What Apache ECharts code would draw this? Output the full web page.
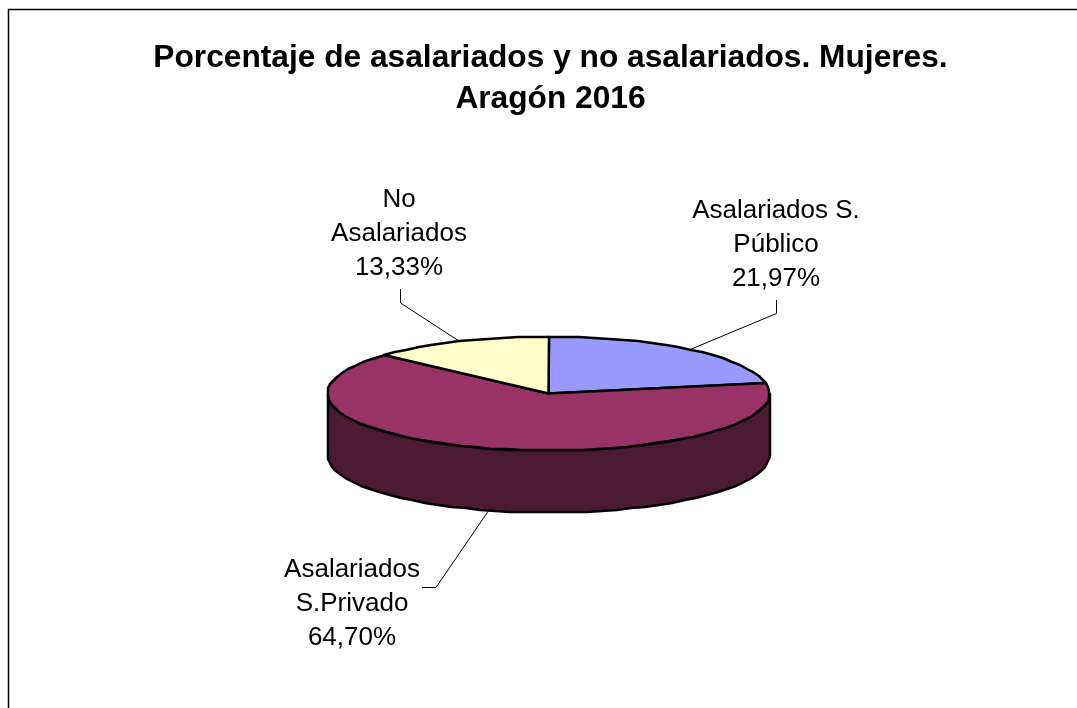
<!DOCTYPE html>
<html>
<head>
<meta charset="utf-8">
<style>html,body{margin:0;padding:0;background:#fff}#chart{width:1077px;height:708px}</style>
<script src="https://cdn.jsdelivr.net/npm/echarts@6/dist/echarts.min.js"></script>
</head>
<body>
<div id="chart"></div>
<script>
const titleText = 'Porcentaje de asalariados y no asalariados. Mujeres.\nAragón 2016'
const categories = ['Asalariados S.\nPúblico', 'Asalariados\nS.Privado', 'No\nAsalariados']
const values = [21.97, 64.70, 13.33]
const topColors = ['#9999ff', '#993366', '#ffffcc']
const sideColors = ['#4d4d80', '#4d1a33', '#808066']

// pie geometry
const cx = 548.5, cy = 393.5, rx = 221, ry = 57, depth = 62
const total = values.reduce((a, b) => a + b, 0)

// where each label sits: text centre, then the bend points of its leader line
const labelLayout = [
  { x: 776, y: 245, bend: [[776.5, 300], [776.5, 313.5]] },
  { x: 352, y: 604, bend: [[422, 587.5], [436, 587.5]] },
  { x: 399, y: 234, bend: [[400.5, 289], [400.5, 303]] }
]

// rounded to whole pixels and few steps, the original outline is faceted too
function pt(deg, dy) {
  const a = deg * Math.PI / 180
  return [Math.round(cx + rx * Math.sin(a)), Math.round(cy - ry * Math.cos(a)) + (dy || 0)]
}
function arc(from, to, dy) {
  const pts = []
  for (let d = from; d < to; d += 4) pts.push(pt(d, dy))
  pts.push(pt(to, dy))
  return pts
}

function renderSlice(params, api) {
  const i = params.dataIndex
  let before = 0
  for (let k = 0; k < i; k++) before += values[k]
  const start = before / total * 360
  const end = (before + api.value(0)) / total * 360
  const mid = (start + end) / 2
  const border = { stroke: '#000', lineWidth: 2.5, lineJoin: 'round' }
  const children = []

  // rim, only the front half of the ellipse shows
  const s = Math.max(start, 90), e = Math.min(end, 270)
  if (e > s) {
    children.push({
      type: 'polygon',
      shape: { points: arc(s, e, 0).concat(arc(s, e, depth).reverse()) },
      style: { fill: sideColors[i], ...border }
    })
  }
  children.push({
    type: 'polygon',
    shape: { points: [[cx, cy]].concat(arc(start, end, 0)) },
    style: { fill: topColors[i], ...border }
  })

  // leader line, ends on the middle of the slice
  const onFront = mid > 90 && mid < 270
  const l = labelLayout[i]
  children.push({
    type: 'polyline',
    shape: { points: l.bend.concat([pt(mid, onFront ? depth : 0)]) },
    style: { stroke: '#000', lineWidth: 1, fill: null }
  })
  children.push({
    type: 'text',
    style: {
      x: l.x, y: l.y,
      text: categories[i] + '\n' + api.value(0).toFixed(2).replace('.', ',') + '%',
      fill: '#000',
      font: '26px "Liberation Sans", Arial, sans-serif',
      lineHeight: 34,
      align: 'center',
      verticalAlign: 'middle'
    }
  })
  return { type: 'group', children }
}

const chart = echarts.init(document.getElementById('chart'), null, { renderer: 'canvas' })
chart.setOption({
  animation: false,
  backgroundColor: '#fff',
  title: {
    text: titleText,
    left: 545.5,
    top: 33,
    textAlign: 'center',
    textStyle: {
      color: '#000',
      fontFamily: '"Liberation Sans", Arial, sans-serif',
      fontWeight: 'bold',
      fontSize: 31.7,
      lineHeight: 41
    }
  },
  graphic: [{
    type: 'rect',
    silent: true,
    shape: { x: 8.5, y: 9.5, width: 1200, height: 900 },
    style: { fill: null, stroke: '#000', lineWidth: 1.5 }
  }],
  series: [{
    type: 'custom',
    coordinateSystem: 'none',
    silent: true,
    renderItem: renderSlice,
    data: values.map(v => [v])
  }]
})
</script>
</body>
</html>
